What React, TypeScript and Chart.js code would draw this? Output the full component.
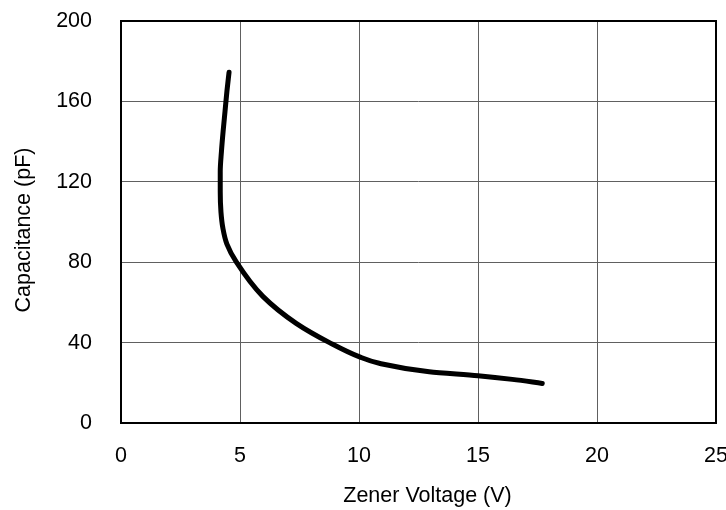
import React, { useEffect, useRef } from "react";
import { Chart, registerables } from "chart.js";

Chart.register(...registerables);

const voltage = [4.54, 4.45, 4.37, 4.29, 4.22, 4.17, 4.17, 4.2, 4.28, 4.45, 4.85, 5.96, 7.36, 8.76, 10, 10.85, 12.95, 15, 16.44, 17.7];
const capacitance = [174.5, 165, 155, 145, 135, 125, 115, 105, 97, 89, 80, 63, 49.6, 40, 33, 29.7, 25.5, 23.5, 21.7, 19.7];
const xTitle = "Zener Voltage (V)";
const yTitle = "Capacitance (pF)";

const FONT = "'Liberation Sans', Arial, sans-serif";
const FS = 21.5;

const frame = {
  id: "frame",
  afterDraw(chart: any) {
    const { ctx, chartArea } = chart;
    ctx.save();
    ctx.strokeStyle = "#000";
    ctx.lineWidth = 2;
    ctx.strokeRect(chartArea.left, chartArea.top, chartArea.right - chartArea.left, chartArea.bottom - chartArea.top);
    ctx.fillStyle = "#000";
    ctx.font = `${FS}px ${FONT}`;
    ctx.textAlign = "center";
    ctx.textBaseline = "alphabetic";
    const cx = (chartArea.left + chartArea.right) / 2 + 9;
    ctx.fillText(xTitle, cx, 502);
    const cy = (chartArea.top + chartArea.bottom) / 2 + 8;
    ctx.translate(30, cy);
    ctx.rotate(-Math.PI / 2);
    ctx.fillText(yTitle, 0, 0);
    ctx.restore();
  },
};

function zeroPad(scale: any) {
  scale.paddingTop = 0;
  scale.paddingBottom = 0;
  scale.paddingLeft = 0;
  scale.paddingRight = 0;
}

export default function App() {
  const ref = useRef<HTMLCanvasElement | null>(null);
  useEffect(() => {
    if (!ref.current) return;
    const points = voltage.map((v, i) => ({ x: v, y: capacitance[i] }));
    const chart = new Chart(ref.current, {
      type: "scatter",
      data: {
        datasets: [
          {
            data: points,
            indexAxis: "y",
            showLine: true,
            borderColor: "#000",
            borderWidth: 5,
            borderCapStyle: "round",
            borderJoinStyle: "round",
            pointRadius: 0,
            cubicInterpolationMode: "monotone",
          },
        ],
      },
      options: {
        animation: false,
        responsive: false,
        maintainAspectRatio: false,
        layout: { padding: { top: 21, right: 10, left: 0, bottom: 0 } },
        plugins: { legend: { display: false }, tooltip: { enabled: false } },
        scales: {
          x: {
            type: "linear",
            min: 0,
            max: 25,
            ticks: { stepSize: 5, padding: 20, color: "#000", font: { family: FONT, size: FS } },
            grid: { color: "#606060", lineWidth: 1, drawTicks: false },
            border: { display: false },
            title: { display: false },
            afterFit(scale: any) {
              scale.height = 87;
              zeroPad(scale);
            },
          },
          y: {
            type: "linear",
            min: 0,
            max: 200,
            ticks: { stepSize: 40, padding: 29, color: "#000", font: { family: FONT, size: FS } },
            grid: { color: "#606060", lineWidth: 1, drawTicks: false },
            border: { display: false },
            title: { display: false },
            afterFit(scale: any) {
              scale.width = 121;
              zeroPad(scale);
            },
          },
        },
      },
      plugins: [frame],
    } as any);
    return () => chart.destroy();
  }, []);
  return (
    <div style={{ position: "fixed", left: 0, top: 0, width: 726, height: 510, background: "#fff" }}>
      <canvas ref={ref} width={726} height={510} style={{ width: 726, height: 510, display: "block" }} />
    </div>
  );
}
